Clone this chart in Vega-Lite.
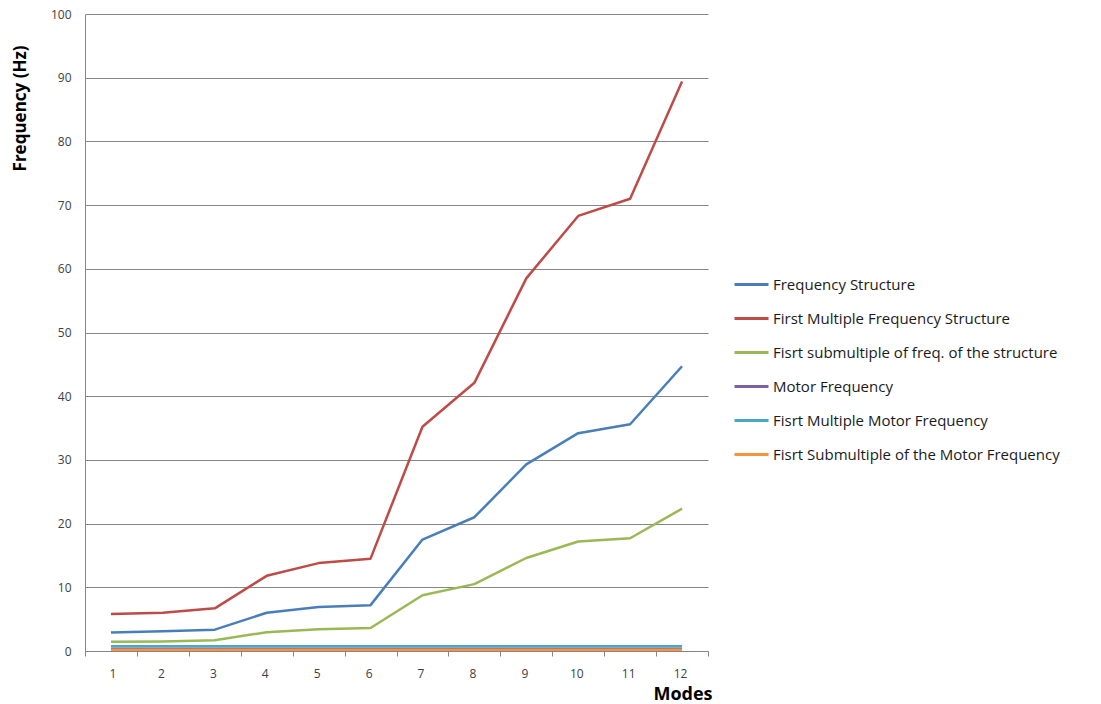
{
  "$schema": "https://vega.github.io/schema/vega-lite/v6.json",
  "width": 623,
  "height": 637,
  "autosize": "none",
  "padding": {"left": 85, "top": 14, "right": 393, "bottom": 53},
  "background": "white",
  "config": {"view": {"stroke": null}, "font": "Open Sans"},
  "data": {
    "values": [
      {"mode": 1, "series": "Frequency  Structure", "freq": 2.9},
      {"mode": 2, "series": "Frequency  Structure", "freq": 3.1},
      {"mode": 3, "series": "Frequency  Structure", "freq": 3.35},
      {"mode": 4, "series": "Frequency  Structure", "freq": 6.0},
      {"mode": 5, "series": "Frequency  Structure", "freq": 6.9},
      {"mode": 6, "series": "Frequency  Structure", "freq": 7.2},
      {"mode": 7, "series": "Frequency  Structure", "freq": 17.5},
      {"mode": 8, "series": "Frequency  Structure", "freq": 21.0},
      {"mode": 9, "series": "Frequency  Structure", "freq": 29.3},
      {"mode": 10, "series": "Frequency  Structure", "freq": 34.2},
      {"mode": 11, "series": "Frequency  Structure", "freq": 35.6},
      {"mode": 12, "series": "Frequency  Structure", "freq": 44.7},
      {"mode": 1, "series": "First Multiple  Frequency  Structure", "freq": 5.8},
      {"mode": 2, "series": "First Multiple  Frequency  Structure", "freq": 6.0},
      {"mode": 3, "series": "First Multiple  Frequency  Structure", "freq": 6.7},
      {"mode": 4, "series": "First Multiple  Frequency  Structure", "freq": 11.8},
      {"mode": 5, "series": "First Multiple  Frequency  Structure", "freq": 13.8},
      {"mode": 6, "series": "First Multiple  Frequency  Structure", "freq": 14.5},
      {"mode": 7, "series": "First Multiple  Frequency  Structure", "freq": 35.2},
      {"mode": 8, "series": "First Multiple  Frequency  Structure", "freq": 42.1},
      {"mode": 9, "series": "First Multiple  Frequency  Structure", "freq": 58.5},
      {"mode": 10, "series": "First Multiple  Frequency  Structure", "freq": 68.3},
      {"mode": 11, "series": "First Multiple  Frequency  Structure", "freq": 71.0},
      {"mode": 12, "series": "First Multiple  Frequency  Structure", "freq": 89.4},
      {"mode": 1, "series": "Fisrt submultiple  of freq. of the structure", "freq": 1.45},
      {"mode": 2, "series": "Fisrt submultiple  of freq. of the structure", "freq": 1.5},
      {"mode": 3, "series": "Fisrt submultiple  of freq. of the structure", "freq": 1.7},
      {"mode": 4, "series": "Fisrt submultiple  of freq. of the structure", "freq": 2.95},
      {"mode": 5, "series": "Fisrt submultiple  of freq. of the structure", "freq": 3.4},
      {"mode": 6, "series": "Fisrt submultiple  of freq. of the structure", "freq": 3.6},
      {"mode": 7, "series": "Fisrt submultiple  of freq. of the structure", "freq": 8.75},
      {"mode": 8, "series": "Fisrt submultiple  of freq. of the structure", "freq": 10.5},
      {"mode": 9, "series": "Fisrt submultiple  of freq. of the structure", "freq": 14.6},
      {"mode": 10, "series": "Fisrt submultiple  of freq. of the structure", "freq": 17.2},
      {"mode": 11, "series": "Fisrt submultiple  of freq. of the structure", "freq": 17.7},
      {"mode": 12, "series": "Fisrt submultiple  of freq. of the structure", "freq": 22.35},
      {"mode": 1, "series": "Motor  Frequency", "freq": 0.37},
      {"mode": 2, "series": "Motor  Frequency", "freq": 0.37},
      {"mode": 3, "series": "Motor  Frequency", "freq": 0.37},
      {"mode": 4, "series": "Motor  Frequency", "freq": 0.37},
      {"mode": 5, "series": "Motor  Frequency", "freq": 0.37},
      {"mode": 6, "series": "Motor  Frequency", "freq": 0.37},
      {"mode": 7, "series": "Motor  Frequency", "freq": 0.37},
      {"mode": 8, "series": "Motor  Frequency", "freq": 0.37},
      {"mode": 9, "series": "Motor  Frequency", "freq": 0.37},
      {"mode": 10, "series": "Motor  Frequency", "freq": 0.37},
      {"mode": 11, "series": "Motor  Frequency", "freq": 0.37},
      {"mode": 12, "series": "Motor  Frequency", "freq": 0.37},
      {"mode": 1, "series": "Fisrt Multiple  Motor  Frequency", "freq": 0.73},
      {"mode": 2, "series": "Fisrt Multiple  Motor  Frequency", "freq": 0.73},
      {"mode": 3, "series": "Fisrt Multiple  Motor  Frequency", "freq": 0.73},
      {"mode": 4, "series": "Fisrt Multiple  Motor  Frequency", "freq": 0.73},
      {"mode": 5, "series": "Fisrt Multiple  Motor  Frequency", "freq": 0.73},
      {"mode": 6, "series": "Fisrt Multiple  Motor  Frequency", "freq": 0.73},
      {"mode": 7, "series": "Fisrt Multiple  Motor  Frequency", "freq": 0.73},
      {"mode": 8, "series": "Fisrt Multiple  Motor  Frequency", "freq": 0.73},
      {"mode": 9, "series": "Fisrt Multiple  Motor  Frequency", "freq": 0.73},
      {"mode": 10, "series": "Fisrt Multiple  Motor  Frequency", "freq": 0.73},
      {"mode": 11, "series": "Fisrt Multiple  Motor  Frequency", "freq": 0.73},
      {"mode": 12, "series": "Fisrt Multiple  Motor  Frequency", "freq": 0.73},
      {"mode": 1, "series": "Fisrt Submultiple  of the Motor  Frequency", "freq": 0.18},
      {"mode": 2, "series": "Fisrt Submultiple  of the Motor  Frequency", "freq": 0.18},
      {"mode": 3, "series": "Fisrt Submultiple  of the Motor  Frequency", "freq": 0.18},
      {"mode": 4, "series": "Fisrt Submultiple  of the Motor  Frequency", "freq": 0.18},
      {"mode": 5, "series": "Fisrt Submultiple  of the Motor  Frequency", "freq": 0.18},
      {"mode": 6, "series": "Fisrt Submultiple  of the Motor  Frequency", "freq": 0.18},
      {"mode": 7, "series": "Fisrt Submultiple  of the Motor  Frequency", "freq": 0.18},
      {"mode": 8, "series": "Fisrt Submultiple  of the Motor  Frequency", "freq": 0.18},
      {"mode": 9, "series": "Fisrt Submultiple  of the Motor  Frequency", "freq": 0.18},
      {"mode": 10, "series": "Fisrt Submultiple  of the Motor  Frequency", "freq": 0.18},
      {"mode": 11, "series": "Fisrt Submultiple  of the Motor  Frequency", "freq": 0.18},
      {"mode": 12, "series": "Fisrt Submultiple  of the Motor  Frequency", "freq": 0.18}
    ]
  },
  "mark": {"type": "line", "strokeWidth": 2.5, "strokeJoin": "round"},
  "encoding": {
    "x": {
      "field": "mode",
      "type": "quantitative",
      "scale": {"domain": [0.5, 12.5], "nice": false, "zero": false},
      "axis": {
        "title": "Modes",
        "values": [0.5, 1.5, 2.5, 3.5, 4.5, 5.5, 6.5, 7.5, 8.5, 9.5, 10.5, 11.5, 12.5],
        "labelExpr": "datum.value < 12 ? format(datum.value + 0.5, 'd') : ''",
        "labelOffset": 24,
        "labelOverlap": false,
        "labelBound": false,
        "grid": false,
        "tickSize": 5,
        "tickColor": "#868686",
        "domainColor": "#868686",
        "labelFontSize": 12,
        "labelColor": "#404040",
        "labelPadding": 12,
        "titleFontSize": 18,
        "titleFontWeight": "bold",
        "titleColor": "#000000",
        "titleAlign": "right",
        "titleBaseline": "middle",
        "titleX": 627,
        "titleY": 43
      }
    },
    "y": {
      "field": "freq",
      "type": "quantitative",
      "scale": {"domain": [0, 100], "nice": false},
      "axis": {
        "title": "Frequency (Hz)",
        "values": [0, 10, 20, 30, 40, 50, 60, 70, 80, 90, 100],
        "grid": true,
        "gridColor": "#868686",
        "gridWidth": 1,
        "tickSize": 0,
        "domainColor": "#868686",
        "labelFontSize": 12,
        "labelColor": "#404040",
        "labelPadding": 14,
        "titleFontSize": 17,
        "titleFontWeight": "bold",
        "titleColor": "#000000",
        "titleAngle": -90,
        "titleAlign": "center",
        "titleBaseline": "middle",
        "titleX": -65,
        "titleY": 94
      }
    },
    "color": {
      "field": "series",
      "type": "nominal",
      "scale": {
        "domain": [
          "Frequency  Structure",
          "First Multiple  Frequency  Structure",
          "Fisrt submultiple  of freq. of the structure",
          "Motor  Frequency",
          "Fisrt Multiple  Motor  Frequency",
          "Fisrt Submultiple  of the Motor  Frequency"
        ],
        "range": ["#4A7EBB", "#BE4B48", "#98B954", "#7D60A0", "#46AAC5", "#F69240"]
      },
      "legend": {
        "title": null,
        "orient": "none",
        "legendX": 648,
        "legendY": 252,
        "symbolType": "stroke",
        "symbolSize": 1156,
        "symbolStrokeWidth": 3,
        "rowPadding": 7,
        "labelFontSize": 15,
        "labelColor": "#1a1a1a",
        "labelOffset": 3,
        "labelLimit": 400
      }
    }
  }
}
